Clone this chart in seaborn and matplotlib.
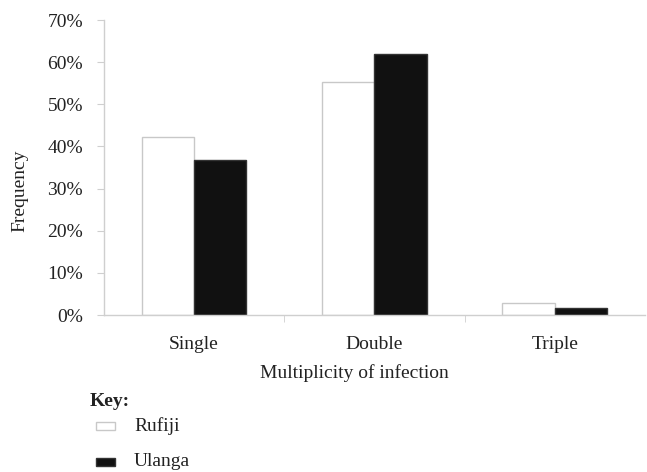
import pandas as pd
import seaborn as sns
import matplotlib.pyplot as plt
from matplotlib.patches import Rectangle
from matplotlib.ticker import PercentFormatter, FixedLocator

# Values (percent)
categories = ['Single', 'Double', 'Triple']
rufiji = [42.2, 55.4, 2.9]
ulanga = [36.8, 61.9, 1.6]
sites = ['Rufiji', 'Ulanga']
fills = {'Rufiji': 'white', 'Ulanga': '#111111'}
edges = {'Rufiji': '#c8c8c8', 'Ulanga': '#333333'}

df = pd.DataFrame({
    'Multiplicity': categories * 2,
    'Site': ['Rufiji'] * 3 + ['Ulanga'] * 3,
    'Frequency': rufiji + ulanga,
})

sns.set_style('white')
plt.rcParams['font.family'] = ['Liberation Serif', 'DejaVu Serif']
txt = '#222222'

fig = plt.figure(figsize=(6.47, 4.72), dpi=100)
ax = fig.add_axes([0.1607, 0.3326, 0.836, 0.625])

sns.barplot(data=df, x='Multiplicity', y='Frequency', hue='Site', order=categories,
            hue_order=sites, palette=fills, width=0.58, gap=0, linewidth=1,
            legend=False, ax=ax)

# edge colours per site
for bar_container, site in zip(ax.containers, sites):
    for p in bar_container:
        p.set_edgecolor(edges[site])

ax.set_ylim(0, 70)
ax.set_xlim(-0.5, 2.5)
ax.set_yticks(range(0, 71, 10))
ax.yaxis.set_major_formatter(PercentFormatter(decimals=0))
ax.xaxis.set_minor_locator(FixedLocator([0.5, 1.5]))

for side in ['top', 'right']:
    ax.spines[side].set_visible(False)
for side in ['left', 'bottom']:
    ax.spines[side].set_color('#cfcfcf')
    ax.spines[side].set_linewidth(1)

ax.tick_params(axis='y', which='major', length=5, color='#cfcfcf', left=True,
               labelsize=14, pad=10, labelcolor=txt)
ax.tick_params(axis='x', which='major', length=0, labelsize=14, pad=15, labelcolor=txt)
ax.tick_params(axis='x', which='minor', length=5, color='#cfcfcf', bottom=True)

ax.set_xlabel('Multiplicity of infection', fontsize=14, color=txt)
ax.set_ylabel('Frequency', fontsize=14, color=txt)
ax.xaxis.set_label_coords(0.463, -0.165)
ax.yaxis.set_label_coords(-0.14, 0.42)

# key below the chart
W, H = 647, 472
fig.text(90 / W, 1 - 401 / H, 'Key:', fontsize=14, fontweight='bold', va='center', color=txt)
key_rows = [('Rufiji', 426), ('Ulanga', 462)]
for site, yc in key_rows:
    fig.patches.append(Rectangle((96 / W, 1 - (yc + 4) / H), 19 / W, 8 / H,
                                 transform=fig.transFigure, facecolor=fills[site],
                                 edgecolor=edges[site], linewidth=1))
    fig.text(134 / W, 1 - yc / H, site, fontsize=14, va='center', color=txt)

fig.savefig('out.png', dpi=100)
